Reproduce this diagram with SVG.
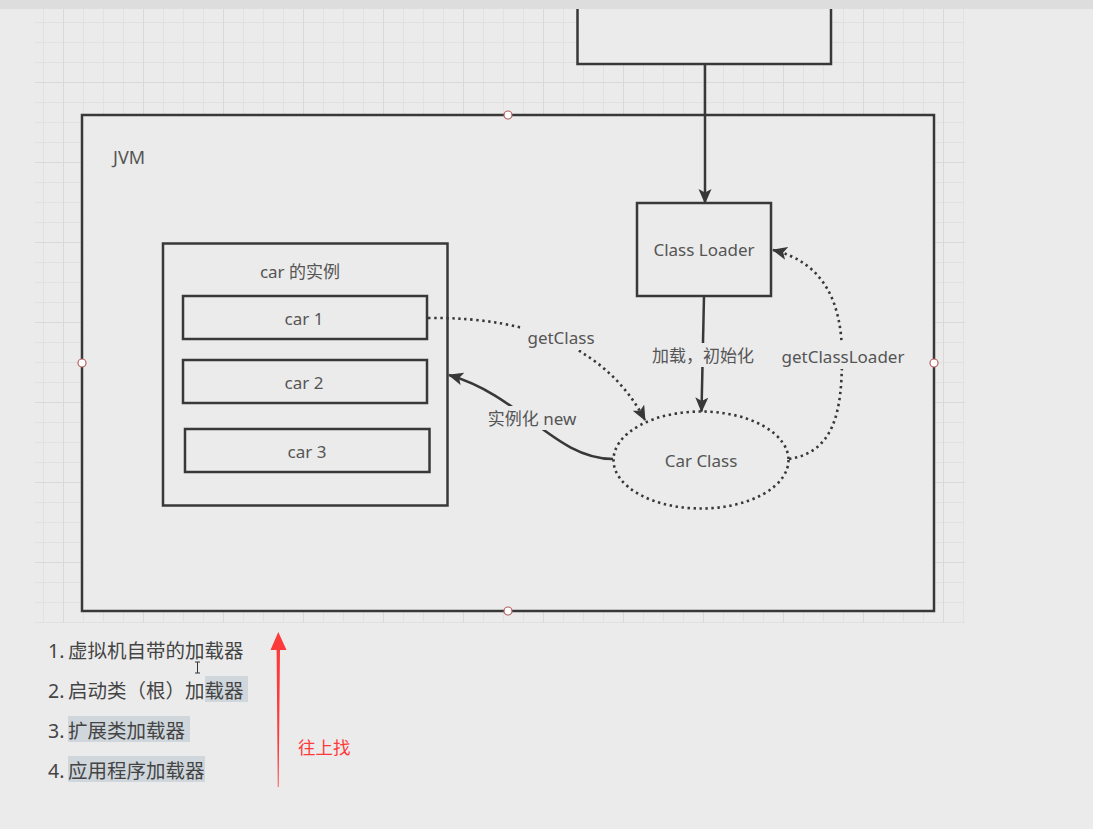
<svg xmlns="http://www.w3.org/2000/svg" width="1093" height="829" viewBox="0 0 1093 829">
<style>
.box{fill:#ebebeb;stroke:#383838;stroke-width:2.5}
.lbl{font-family:"Noto Sans","Noto Sans CJK SC",sans-serif;font-size:17px;fill:#555;dominant-baseline:central}
.mid{text-anchor:middle}
.solid{fill:none;stroke:#383838;stroke-width:2.5}
.dot{fill:none;stroke:#383838;stroke-width:2.6;stroke-dasharray:2.4 3.6}
.lblbg{fill:#ebebeb}
.pt{fill:#fff;stroke:#b56060;stroke-width:1.2}
.list{font-family:"Noto Sans","Noto Sans CJK SC",sans-serif;font-size:19.5px;fill:#444;dominant-baseline:central}
.hl{fill:#cfd6dc}
</style>
<defs>
<pattern id="grid" patternUnits="userSpaceOnUse" x="63" y="82" width="80" height="80">
<path d="M20.5,0V80M40.5,0V80M60.5,0V80M0,20.5H80M0,40.5H80M0,60.5H80" stroke="#e1e1e1" stroke-width="1" fill="none"/>
<path d="M0.5,0V80M0,0.5H80" stroke="#d9d9d9" stroke-width="1" fill="none"/>
</pattern>
<marker id="arr" markerUnits="userSpaceOnUse" markerWidth="16" markerHeight="14" refX="14" refY="6.5" orient="auto" viewBox="0 0 16 14">
<path d="M0,0 L15,6.5 L0,13 L3.5,6.5 Z" fill="#383838"/>
</marker>
</defs>
<rect x="0" y="0" width="1093" height="829" fill="#ebebeb"/>
<rect x="35" y="9" width="930" height="614" fill="url(#grid)"/>

<g id="top-box">
<rect class="box" x="577.5" y="2" width="253.5" height="62"/>
</g>

<g id="jvm">
<rect class="box" x="82" y="115" width="852" height="496"/>
<text class="lbl" x="113" y="157" style="font-size:18px">JVM</text>
<circle class="pt" cx="508" cy="115" r="4"/>
<circle class="pt" cx="82" cy="363" r="4"/>
<circle class="pt" cx="934" cy="363" r="4"/>
<circle class="pt" cx="508" cy="611" r="4"/>
</g>

<g id="car-instances">
<rect class="box" x="163" y="243.5" width="284.5" height="262"/>
<text class="lbl mid" x="300" y="271">car 的实例</text>
</g>
<g id="car1">
<rect class="box" x="183" y="296" width="244" height="43"/>
<text class="lbl mid" x="304" y="318">car 1</text>
</g>
<g id="car2">
<rect class="box" x="183" y="360" width="244" height="43"/>
<text class="lbl mid" x="304" y="382">car 2</text>
</g>
<g id="car3">
<rect class="box" x="185" y="429" width="244.5" height="43"/>
<text class="lbl mid" x="307" y="451">car 3</text>
</g>

<g id="class-loader">
<rect class="box" x="637" y="203" width="134" height="93"/>
<text class="lbl mid" x="704" y="249">Class Loader</text>
</g>

<g id="car-class">
<ellipse class="dot" cx="701" cy="460" rx="87.5" ry="48.5"/>
<text class="lbl mid" x="701" y="460">Car Class</text>
</g>

<g id="connectors">
<path class="solid" d="M705,64 L705,203" marker-end="url(#arr)"/>
<path class="solid" d="M704,296 L701.5,411.5" marker-end="url(#arr)"/>
<rect class="lblbg" x="648" y="343" width="112" height="24"/>
<text class="lbl mid" x="703" y="355">加载，初始化</text>

<path class="dot" d="M428,318 Q590,316 645,420" marker-end="url(#arr)"/>
<rect class="lblbg" x="523" y="326" width="78" height="24"/>
<text class="lbl mid" x="561" y="337">getClass</text>

<path class="solid" d="M613,459 C555,459 522,396 449,375" marker-end="url(#arr)"/>
<rect class="lblbg" x="483" y="406" width="98" height="24"/>
<text class="lbl mid" x="532" y="418">实例化 new</text>

<path class="dot" d="M789,459 C835,452 842,410 842,356 C842,300 822,262 773,250" marker-end="url(#arr)"/>
<rect class="lblbg" x="777" y="343" width="132" height="26"/>
<text class="lbl mid" x="843" y="356">getClassLoader</text>
</g>

<g id="loader-list">
<rect class="hl" x="205" y="676" width="43" height="26"/>
<rect class="hl" x="68" y="716" width="122" height="26"/>
<rect class="hl" x="68" y="756" width="137" height="26"/>
<text class="list" x="48" y="650">1.<tspan x="68">虚拟机自带的加载器</tspan></text>
<text class="list" x="48" y="690">2.<tspan x="68">启动类（根）加载器</tspan></text>
<text class="list" x="48" y="730">3.<tspan x="68">扩展类加载器</tspan></text>
<text class="list" x="48" y="770">4.<tspan x="68">应用程序加载器</tspan></text>
<path d="M195,662 H200 M197.5,662 V673 M195,673 H200" stroke="#333" stroke-width="1" fill="none"/>
</g>

<g id="annotation">
<polygon points="278.3,632 286.5,650 280,650 278.6,787 277.8,787 276.6,650 270.5,650" fill="#fd3a3a"/>
<text x="298" y="746" style="font-family:'Noto Sans CJK SC',sans-serif;font-size:17.5px;fill:#fd3a3a;dominant-baseline:central">往上找</text>
</g>

<rect x="0" y="0" width="1093" height="9" fill="#dddddd"/>
</svg>
